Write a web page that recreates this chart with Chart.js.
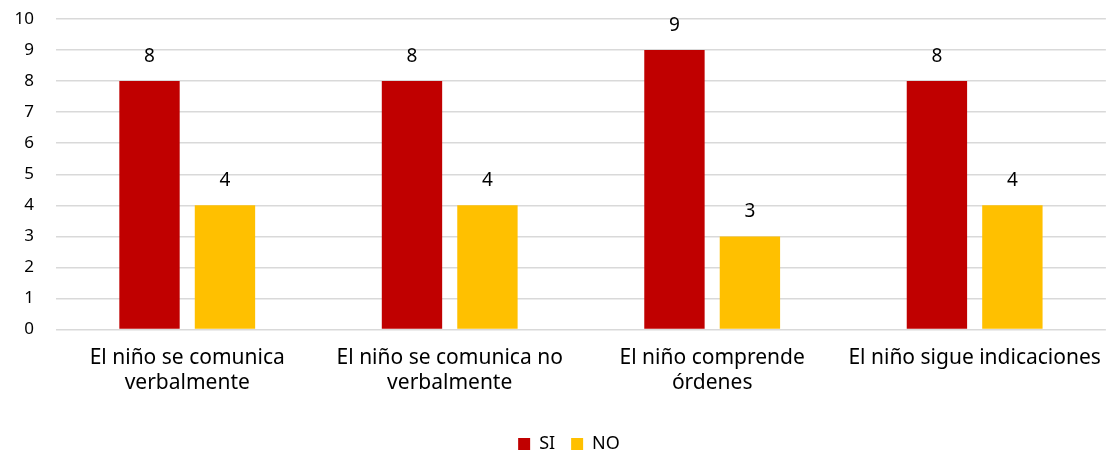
<!DOCTYPE html>
<html>
<head>
<meta charset="utf-8">
<script src="https://cdn.jsdelivr.net/npm/chart.js@4"></script>
<style>
    body { margin: 0; background: #fff; }
    #wrap { width: 1109px; height: 450px; }
</style>
</head>
<body>
<div id="wrap"><canvas id="barChart"></canvas></div>
<script>
const categories = [
    ["El niño se comunica", "verbalmente"],
    ["El niño se comunica no", "verbalmente"],
    ["El niño comprende", "órdenes"],
    "El niño sigue indicaciones",
];
const siValues = [8, 8, 9, 8];
const noValues = [4, 4, 3, 4];
const yTicks = [0, 1, 2, 3, 4, 5, 6, 7, 8, 9, 10];

// draws the value over each bar
const valueLabels = {
    id: "valueLabels",
    afterDatasetsDraw(chart) {
        const ctx = chart.ctx;
        ctx.save();
        ctx.font = "19px 'Noto Sans'";
        ctx.fillStyle = "#000";
        ctx.textAlign = "center";
        ctx.textBaseline = "alphabetic";
        chart.data.datasets.forEach((ds, i) => {
            chart.getDatasetMeta(i).data.forEach((bar, j) => {
                ctx.fillText(ds.data[j], bar.x, bar.y - 19);
            });
        });
        ctx.restore();
    },
};

// legend sits a bit right of the canvas centre
const shiftLegend = {
    id: "shiftLegend",
    afterLayout(chart) {
        chart.legend.left += 15;
        chart.legend.right += 15;
    },
};

new Chart(document.getElementById("barChart"), {
    type: "bar",
    data: {
        labels: categories,
        datasets: [
            {
                label: "SI",
                data: siValues,
                backgroundColor: "#C00000",
                barPercentage: 0.8,
                categoryPercentage: 0.575,
            },
            {
                label: "NO",
                data: noValues,
                backgroundColor: "#FFC000",
                barPercentage: 0.8,
                categoryPercentage: 0.575,
            },
        ],
    },
    plugins: [valueLabels, shiftLegend],
    options: {
        responsive: true,
        maintainAspectRatio: false,
        animation: false,
        layout: {
            padding: { left: 0, right: 1, top: 19, bottom: -13 },
        },
        plugins: {
            tooltip: { enabled: false },
            legend: {
                position: "bottom",
                title: {
                    display: true,
                    text: " ",
                    font: { size: 1, lineHeight: 1 },
                    padding: { top: 14, bottom: 0 },
                },
                labels: {
                    boxWidth: 12,
                    boxHeight: 12,
                    padding: 16,
                    color: "#000",
                    font: { family: "'Noto Sans'", size: 18 },
                },
            },
        },
        scales: {
            x: {
                grid: { display: false },
                border: { display: false },
                ticks: {
                    color: "#000",
                    padding: 8,
                    maxRotation: 0,
                    font: { family: "'Noto Sans'", size: 21, lineHeight: 1.2 },
                },
            },
            y: {
                min: 0,
                max: 10,
                afterBuildTicks: (axis) => {
                    axis.ticks = yTicks.map((v) => ({ value: v }));
                },
                afterFit: (axis) => {
                    axis.width = 56;
                    axis.paddingTop = 0;
                    axis.paddingBottom = 0;
                },
                grid: { color: "#d9d9d9", lineWidth: 1.5, drawTicks: false },
                border: { display: false },
                ticks: {
                    color: "#000",
                    padding: 22,
                    font: { family: "'Noto Sans'", size: 17 },
                },
            },
        },
    },
});
</script>
</body>
</html>
